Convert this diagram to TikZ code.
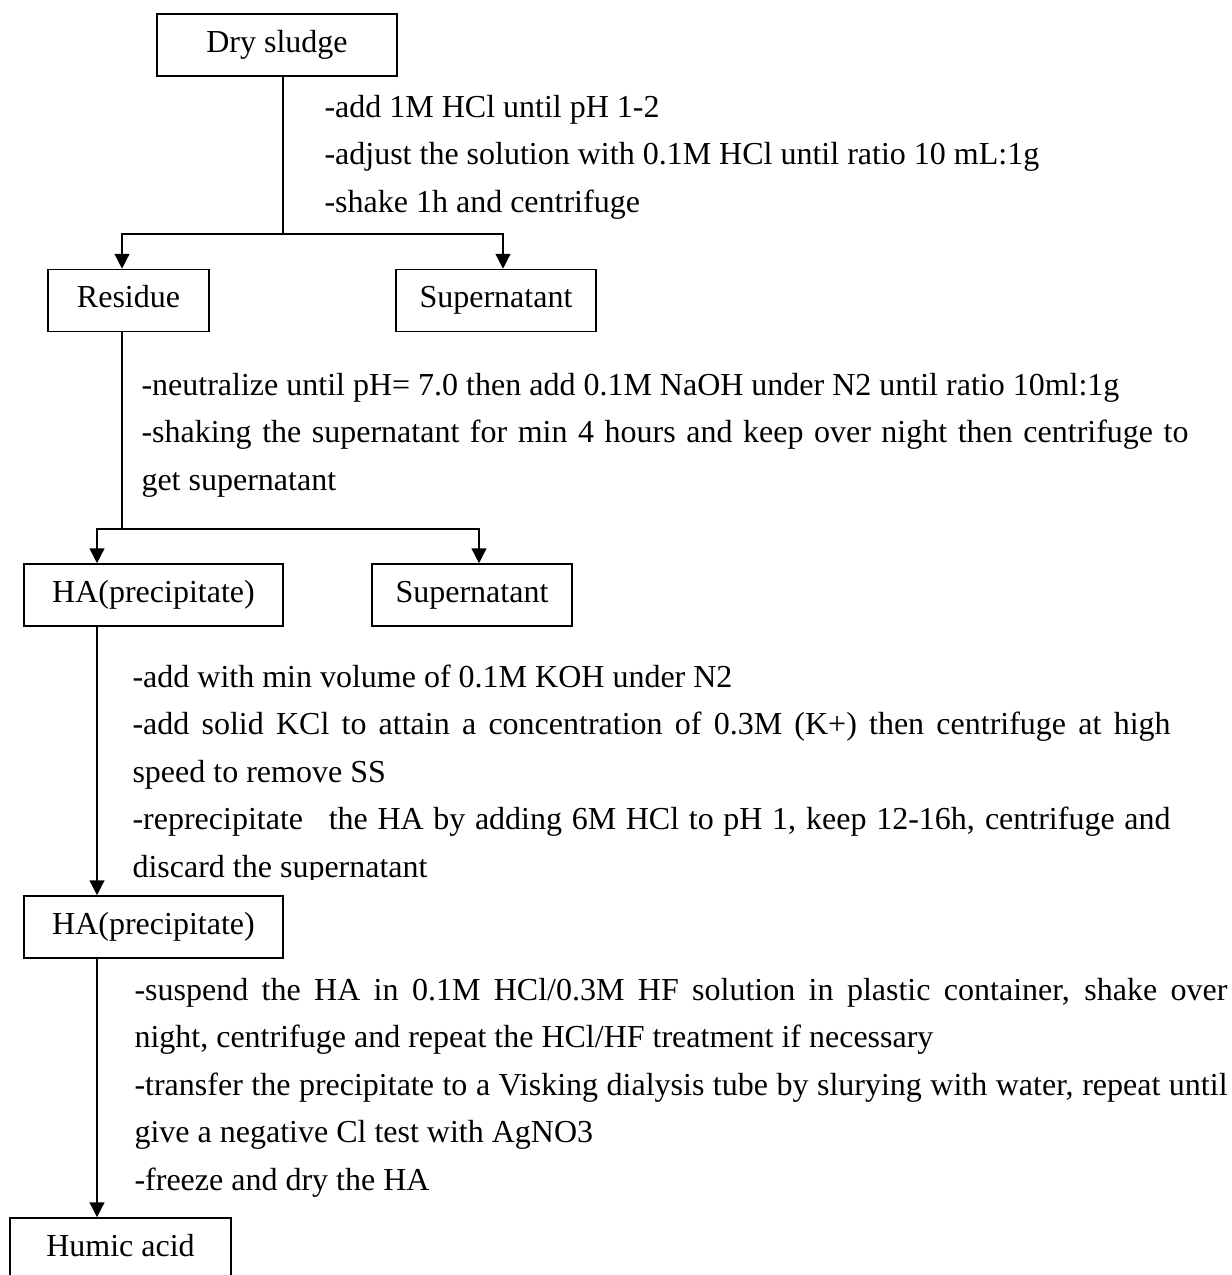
\documentclass[tikz,border=0pt]{standalone}
\usepackage{fontspec}
\setmainfont{Liberation Serif}
\usetikzlibrary{arrows.meta,positioning}
\newlength\pu
\setlength\pu{0.375pt}
\tikzset{
  stage/.style={
    draw,
    line width=0.6pt,
    minimum height=62*\pu,
    inner sep=0pt,
    text height=8.6pt,
    text depth=3pt,
  },
  steps/.style={
    anchor=base west,
    align=left,
    inner sep=0pt,
  },
  flow/.style={
    line width=0.55pt,
    -{Triangle[length=5.6pt,width=5.6pt]},
  },
}
\begin{document}
\begin{tikzpicture}[x=0.375pt,y=-0.375pt,font=\fontsize{12pt}{17.8pt}\selectfont]
  \clip (0,0) rectangle (1232,1275);
  \node[stage,minimum width=240*\pu] (sludge)  at (277,45)    {Dry sludge};
  \node[stage,minimum width=161*\pu] (residue) at (128.5,300.5) {Residue};
  \node[stage,minimum width=200*\pu] (super1)  at (496,300.5) {Supernatant};
  \node[stage,minimum width=259*\pu] (ha1)     at (153.5,595) {HA(precipitate)};
  \node[stage,minimum width=200*\pu] (super2)  at (472,595)   {Supernatant};
  \node[stage,minimum width=259*\pu] (ha2)     at (153.5,927) {HA(precipitate)};
  \node[stage,minimum width=221*\pu] (humic)   at (120.5,1249) {Humic acid};
  \coordinate (split1) at (283,234);
  \coordinate (split2) at (122,529);
  \draw[line width=0.55pt] (sludge.south -| split1) -- (split1);
  \draw[flow] (split1) -| ([xshift=-6.5*\pu]residue.north);
  \draw[flow] (split1) -| ([xshift=7*\pu]super1.north);
  \draw[line width=0.55pt] ([xshift=-6.5*\pu]residue.south) -- (split2);
  \draw[flow] (split2) -| ([xshift=-56.5*\pu]ha1.north);
  \draw[flow] (split2) -| ([xshift=7*\pu]super2.north);
  \draw[flow] ([xshift=-56.5*\pu]ha1.south) -- ([xshift=-56.5*\pu]ha2.north);
  \draw[flow] ([xshift=-56.5*\pu]ha2.south) -- ([xshift=-23.5*\pu]humic.north);
  % base anchor sits on the last line
  \node[steps] (acid) at (324,212) {-add 1M HCl until pH 1-2\\
    -adjust the solution with 0.1M HCl until ratio 10 mL:1g\\
    -shake 1h and centrifuge};
  \node[steps] (alkali) at (141,490) {-neutralize until pH= 7.0 then add 0.1M NaOH under N2 until ratio 10ml:1g\\
    \hbox to 1047\pu{-shaking the supernatant for min 4 hours and keep over night then centrifuge to}\\
    get supernatant};
  \begin{scope}
    \clip (0,0) rectangle (1232,879);
    \node[steps] (purify) at (132,877) {-add with min volume of 0.1M KOH under N2\\
      \hbox to 1038\pu{-add solid KCl to attain a concentration of 0.3M (K+) then centrifuge at high}\\
      speed to remove SS\\
      \hbox to 1038\pu{-reprecipitate\enspace\ the HA by adding 6M HCl to pH 1, keep 12-16h, centrifuge and}\\
      discard the supernatant};
  \end{scope}
  \node[steps] (dialysis) at (134,1190) {\hbox to 1093\pu{-suspend the HA in 0.1M HCl/0.3M HF solution in plastic container, shake over}\\
    night, centrifuge and repeat the HCl/HF treatment if necessary\\
    \hbox to 1093\pu{-transfer the precipitate to a Visking dialysis tube by slurying with water, repeat until}\\
    give a negative Cl test with AgNO3\\
    -freeze and dry the HA};
\end{tikzpicture}
\end{document}
